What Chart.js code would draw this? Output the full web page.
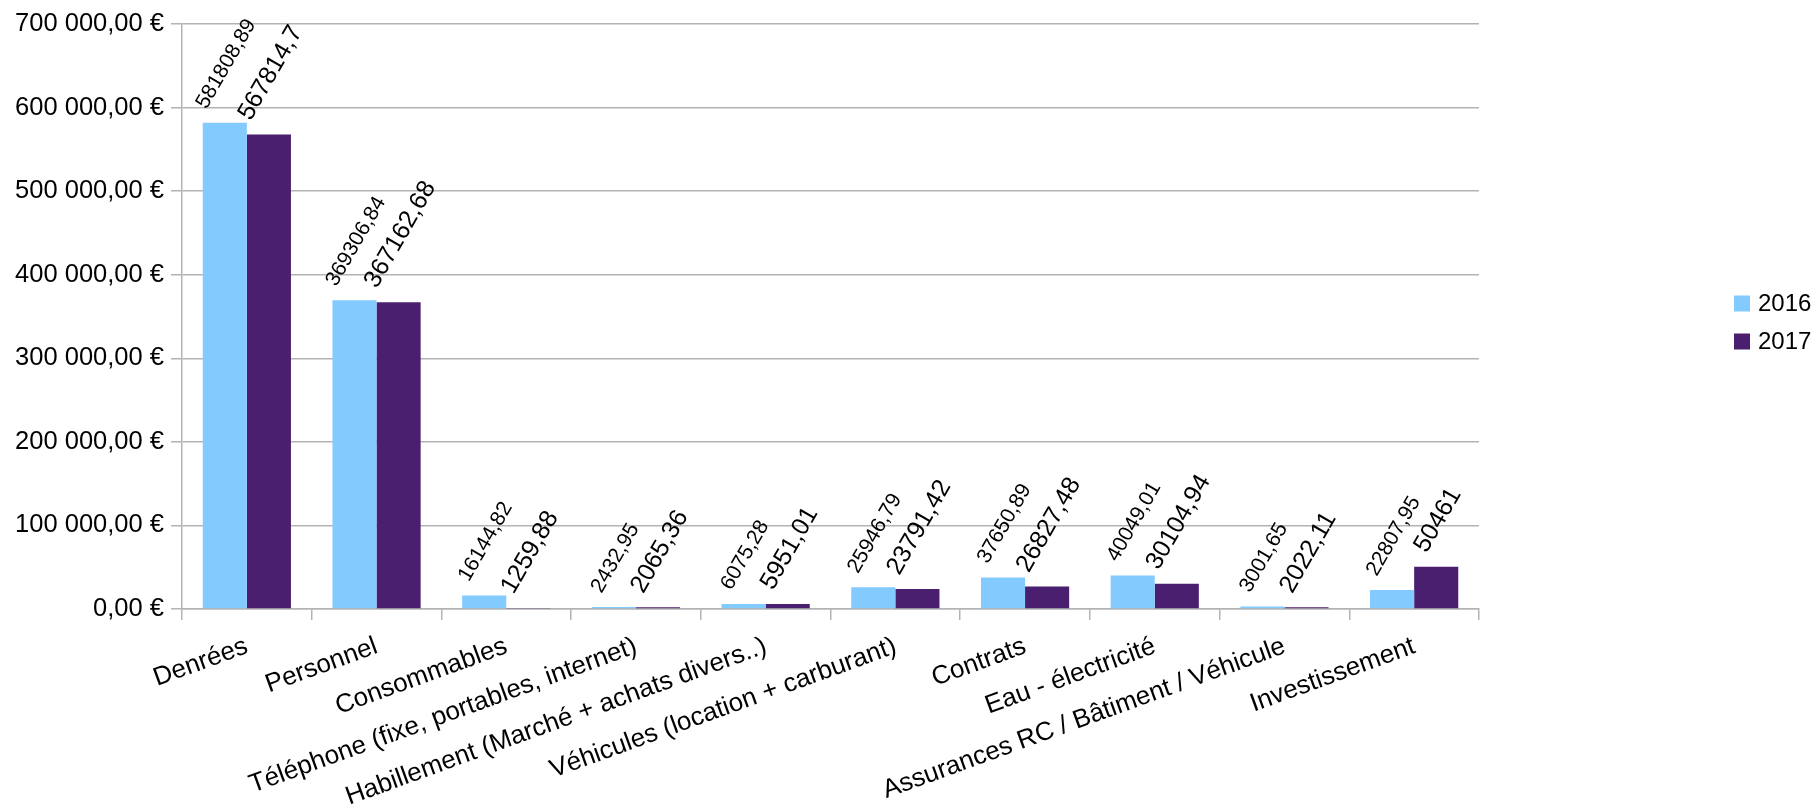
<!DOCTYPE html>
<html>
<head>
<meta charset="utf-8">
<script src="https://cdn.jsdelivr.net/npm/chart.js@4/dist/chart.umd.min.js"></script>
<style>
  body { margin: 0; background: #fff; }
  #wrap { width: 1820px; height: 809px; position: relative; }
</style>
</head>
<body>
<div id="wrap"><canvas id="Chart"></canvas></div>
<script>
// Data
const categories = [
    'Denrées',
    'Personnel',
    'Consommables',
    'Téléphone (fixe, portables, internet)',
    'Habillement (Marché + achats divers..)',
    'Véhicules (location + carburant)',
    'Contrats',
    'Eau - électricité',
    'Assurances RC / Bâtiment / Véhicule',
    'Investissement'
]
const values2016 = [581808.89, 369306.84, 16144.82, 2432.95, 6075.28, 25946.79, 37650.89, 40049.01, 3001.65, 22807.95]
const values2017 = [567814.7, 367162.68, 1259.88, 2065.36, 5951.01, 23791.42, 26827.48, 30104.94, 2022.11, 50461]
const seriesNames = ['2016', '2017']
const yTicks = [0, 100000, 200000, 300000, 400000, 500000, 600000, 700000]

const FONT = '"Liberation Sans", Arial, sans-serif'
const GRID = '#b3b3b3'
const colors = ['#83caff', '#4b1f6f']
const labelSizes = [21, 25] // value labels: 2016 smaller, 2017 bigger

function euro(v) {
    const s = Math.round(v).toString().replace(/\B(?=(\d{3})+(?!\d))/g, ' ')
    return s + ',00 €'
}

// values written above each bar, turned 60 degrees
const barLabels = {
    id: 'barLabels',
    afterDatasetsDraw(chart) {
        const ctx = chart.ctx
        const a = 60 * Math.PI / 180
        chart.data.datasets.forEach((ds, i) => {
            const meta = chart.getDatasetMeta(i)
            const size = labelSizes[i]
            ctx.save()
            ctx.font = size + 'px ' + FONT
            ctx.fillStyle = '#000'
            ctx.textAlign = 'center'
            ctx.textBaseline = 'alphabetic'
            meta.data.forEach((bar, j) => {
                const txt = String(ds.data[j]).replace('.', ',')
                const w = ctx.measureText(txt).width
                const h = size * 0.72
                const boxH = w * Math.sin(a) + h * Math.cos(a)
                ctx.save()
                ctx.translate(bar.x, bar.y - 13 - boxH / 2)
                ctx.rotate(-a)
                ctx.fillText(txt, 0, h / 2)
                ctx.restore()
            })
            ctx.restore()
        })
    }
}

// legend on the far right, away from the plot
const sideLegend = {
    id: 'sideLegend',
    afterDraw(chart) {
        const ctx = chart.ctx
        const area = chart.chartArea
        const x = area.right + 255
        const midY = (area.top + area.bottom) / 2 + 6
        ctx.save()
        ctx.font = '24px ' + FONT
        ctx.textBaseline = 'middle'
        ctx.textAlign = 'left'
        chart.data.datasets.forEach((ds, i) => {
            const y = midY + (i - 0.5) * 38
            ctx.fillStyle = ds.backgroundColor
            ctx.fillRect(x, y - 8, 16, 16)
            ctx.fillStyle = '#000'
            ctx.fillText(ds.label, x + 24, y + 1)
        })
        ctx.restore()
    }
}

const ctx = document.getElementById('Chart').getContext('2d')
const myChart = new Chart(ctx, {
    type: 'bar',
    data: {
        labels: categories,
        datasets: [{
            label: seriesNames[0],
            data: values2016,
            backgroundColor: colors[0],
            categoryPercentage: 0.68,
            barPercentage: 1.0
        }, {
            label: seriesNames[1],
            data: values2017,
            backgroundColor: colors[1],
            categoryPercentage: 0.68,
            barPercentage: 1.0
        }]
    },
    options: {
        responsive: true,
        maintainAspectRatio: false,
        animation: false,
        devicePixelRatio: 1,
        layout: {
            padding: { left: 0, right: 341, top: 24, bottom: 0 }
        },
        plugins: {
            legend: { display: false },
            tooltip: { enabled: false }
        },
        scales: {
            x: {
                offset: true,
                grid: {
                    offset: true,
                    drawOnChartArea: true,
                    drawTicks: true,
                    tickLength: 11,
                    color: (c) => c.index === categories.length ? GRID : 'rgba(0,0,0,0)',
                    tickColor: GRID,
                    lineWidth: 1.5
                },
                border: { display: true, color: GRID, width: 1.5 },
                ticks: {
                    autoSkip: false,
                    minRotation: 20,
                    maxRotation: 20,
                    padding: 11,
                    color: '#000',
                    font: { family: FONT, size: 26 }
                },
                afterFit: (scale) => { scale.height = 200 }
            },
            y: {
                min: 0,
                max: 700000,
                afterBuildTicks: (scale) => { scale.ticks = yTicks.map(v => ({ value: v })) },
                grid: {
                    color: GRID,
                    tickColor: GRID,
                    tickLength: 11,
                    lineWidth: 1.5
                },
                border: { display: true, color: GRID, width: 1.5 },
                ticks: {
                    padding: 7,
                    color: '#000',
                    font: { family: FONT, size: 25.5 },
                    callback: (v) => euro(v)
                },
                afterFit: (scale) => { scale.width = 182 }
            }
        }
    },
    plugins: [barLabels, sideLegend]
})
</script>
</body>
</html>
